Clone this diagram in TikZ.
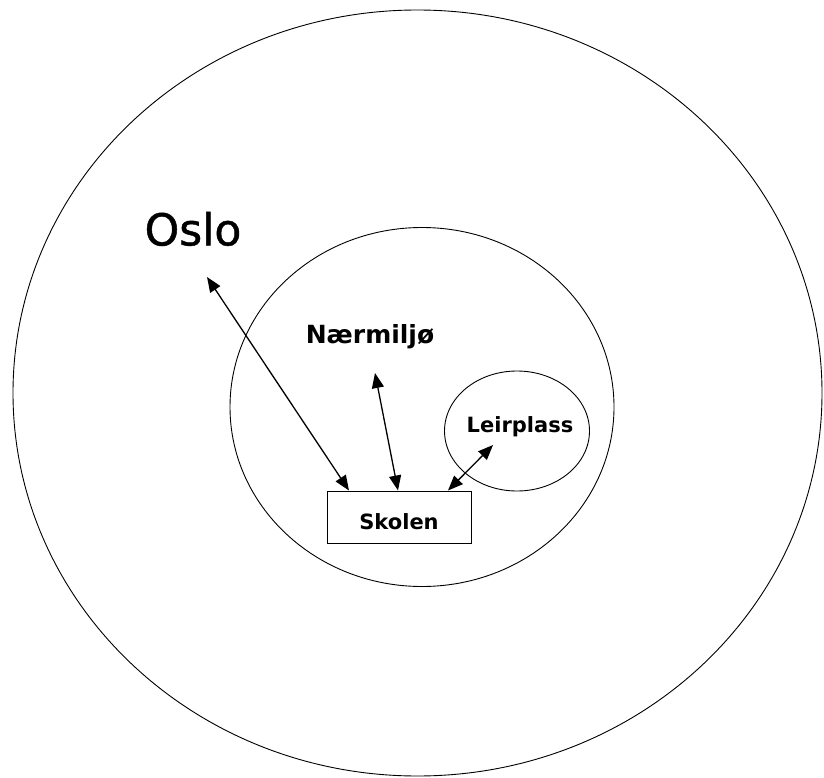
\documentclass[tikz,border=0pt]{standalone}
\usepackage{fontspec}
\setmainfont{DejaVu Sans}
\newfontfamily\oslofont{DejaVu Sans}[FakeBold=1.0]
\usetikzlibrary{shapes.geometric,arrows.meta,calc}
\tikzset{
  ring/.style={draw, ellipse, line width=0.9pt, inner sep=0pt},
  placebox/.style={draw, rectangle, line width=1pt, minimum width=144pt, minimum height=52pt, inner sep=0pt},
  label/.style={font=\bfseries\fontsize{21}{21}\selectfont, inner sep=0pt},
  link/.style={line width=1.3pt, {Triangle[length=15pt,width=12pt]}-{Triangle[length=15pt,width=12pt]}}
}
\begin{document}
\begin{tikzpicture}[x=1pt,y=-1pt]
  \useasboundingbox (0,0) rectangle (824,778);
  % nested areas
  \node[ring, minimum width=809pt, minimum height=766pt] (city) at (417.5,393) {};
  \node[ring, minimum width=384pt, minimum height=359pt] (near) at (422,407) {};
  \node[ring, minimum width=145pt, minimum height=120pt] (camp) at (517,431) {};
  % school
  \node[placebox] (skolen) at (399,517) {};
  \node[label] at (399,522) {Skolen};
  % area names
  \node[font=\oslofont\fontsize{44}{44}\selectfont, inner sep=0pt] (oslo) at (193,229) {Oslo};
  \node[label, font=\bfseries\fontsize{25}{25}\selectfont] (naer) at (370,337) {Nærmiljø};
  \node[label] (leir) at (520,427) {Leirplass};
  % arrow end points
  \coordinate (osloend) at (207,277);
  \coordinate (naerend) at (375,373);
  \coordinate (leirend) at (493,445);
  \coordinate (s1) at ($(skolen.north)+(-50,0)$);
  \coordinate (s2) at ($(skolen.north)+(-1,0)$);
  \coordinate (s3) at ($(skolen.north)+(49,0)$);
  % links to the school
  \draw[link] (osloend) -- (s1);
  \draw[link] (naerend) -- (s2);
  \draw[link] (leirend) -- (s3);
\end{tikzpicture}
\end{document}
